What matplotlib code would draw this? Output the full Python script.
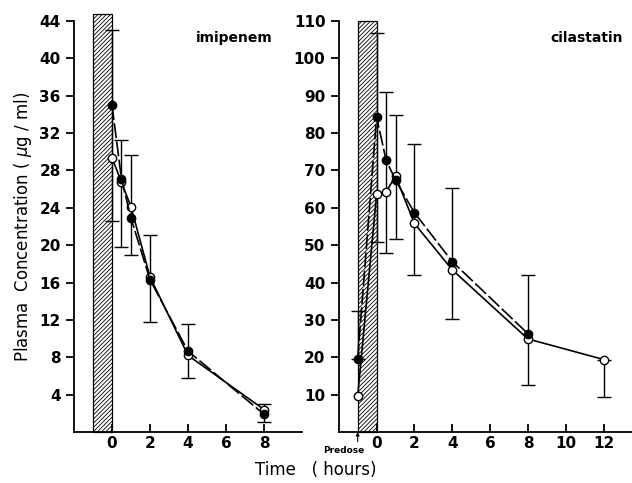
import numpy as np
import matplotlib
matplotlib.use('Agg')
import matplotlib.pyplot as plt

plt.rcParams['font.family'] = ['DejaVu Sans']
plt.rcParams['hatch.linewidth'] = 0.6

# imipenem (left panel)
imi_t = [0, 0.5, 1, 2, 4, 8]
imi_fill = [35.0, 27.1, 22.9, 16.3, 8.65, 1.9]
imi_open = [29.35, 26.75, 24.1, 16.6, 8.2, 2.4]
imi_hi = [43.0, 31.3, 29.7, 21.1, 11.6, 3.0]
imi_lo = [22.6, 19.75, 18.9, 11.75, 5.8, 1.1]

# cilastatin (right panel), -1 = predose
cil_t_fill = [-1, 0, 0.5, 1, 2, 4, 8]
cil_fill = [19.6, 84.3, 72.8, 67.4, 58.7, 45.6, 26.3]
cil_t_open = [-1, 0, 0.5, 1, 2, 4, 8, 12]
cil_open = [9.6, 63.6, 64.2, 68.5, 55.8, 43.4, 24.9, 19.4]
cil_t_err = [-1, 0, 0.5, 1, 2, 4, 8, 12]
cil_hi = [32.5, 106.7, 91.0, 84.8, 77.2, 65.4, 41.9, 19.4]
cil_lo = [19.6, 50.9, 47.9, 51.7, 41.9, 30.3, 12.7, 9.4]

fig = plt.figure(figsize=(6.32, 4.83), dpi=100)
ax1 = fig.add_axes([0.117, 0.1056, 0.361, 0.851])
ax2 = fig.add_axes([0.536, 0.1056, 0.464, 0.851])


def style(ax):
    for s in ['top', 'right']:
        ax.spines[s].set_visible(False)
    for s in ['left', 'bottom']:
        ax.spines[s].set_linewidth(1.3)
    ax.tick_params(axis='y', direction='out', length=6, width=1.3, labelsize=11)
    ax.tick_params(axis='x', direction='in', length=6, width=1.3, labelsize=11, pad=3)
    for lab in ax.get_xticklabels() + ax.get_yticklabels():
        lab.set_fontweight('bold')


def draw(ax, tf, yf, to, yo, te, hi, lo, top):
    ax.bar(-0.5, top, width=1.0, bottom=0, color='white', edgecolor='black',
           hatch='////////', linewidth=0.9, clip_on=False, zorder=1)
    hi = np.array(hi)
    lo = np.array(lo)
    mid = (hi + lo) / 2
    ax.errorbar(te, mid, yerr=[mid - lo, hi - mid], fmt='none', ecolor='black',
                elinewidth=1.0, capsize=5, capthick=1.0, zorder=2, clip_on=False)
    ax.plot(to, yo, '-', color='black', lw=1.2, marker='o', ms=6,
            mfc='white', mec='black', mew=1.0, zorder=3, clip_on=False)
    ax.plot(tf, yf, '-', color='black', lw=1.2, dashes=(9, 2), marker='o', ms=6,
            mfc='black', mec='black', zorder=4, clip_on=False)


draw(ax1, imi_t, imi_fill, imi_t, imi_open, imi_t, imi_hi, imi_lo, 44.75)
ax1.set_xlim(-2, 10)
ax1.set_ylim(0, 44)
ax1.set_xticks([0, 2, 4, 6, 8])
ax1.set_yticks(np.arange(4, 45, 4))
style(ax1)
ax1.text(0.87, 0.958, 'imipenem', transform=ax1.transAxes, ha='right',
         va='center', fontsize=10, fontweight='bold')
ax1.set_ylabel('Plasma  Concentration ( $\\mu$g / ml)', fontsize=12, labelpad=4)

draw(ax2, cil_t_fill, cil_fill, cil_t_open, cil_open, cil_t_err, cil_hi, cil_lo, 110)
ax2.set_xlim(-2, 13.5)
ax2.set_ylim(0, 110)
ax2.set_xticks([0, 2, 4, 6, 8, 10, 12])
ax2.set_yticks(np.arange(10, 111, 10))
style(ax2)
ax2.text(0.97, 0.958, 'cilastatin', transform=ax2.transAxes, ha='right',
         va='center', fontsize=10, fontweight='bold')
ax2.annotate('', xy=(-1, 0), xytext=(-1, -2.6), xycoords='data',
             arrowprops=dict(arrowstyle='-|>', color='black', lw=0.8,
                             mutation_scale=5, shrinkA=0, shrinkB=0),
             annotation_clip=False)
ax2.text(-1.75, -4.9, 'Predose', ha='center', va='center', fontsize=6.5,
         fontweight='bold')

fig.text(0.5, 0.027, 'Time   ( hours)', ha='center', va='center', fontsize=12)

fig.savefig('out.png', dpi=100)
